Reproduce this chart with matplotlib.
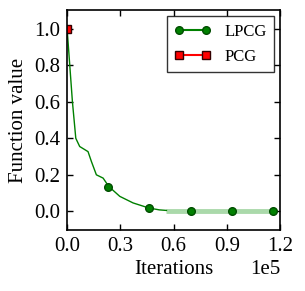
import numpy as np
import matplotlib
matplotlib.use("Agg")
import matplotlib.pyplot as plt

plt.rcParams['font.family'] = ['Liberation Serif', 'DejaVu Serif']

# LPCG curve
lpcg_iter = [0, 1500, 3000, 4900, 7100, 11800, 13700, 16500, 20300, 23500,
             29700, 37200, 46200, 52000, 56000]
lpcg_val = [1.0, 0.80, 0.60, 0.40, 0.355, 0.327, 0.273, 0.20, 0.182, 0.136,
            0.082, 0.046, 0.018, 0.008, 0.005]
# light band of the tail
band_iter = [56000, 116000]
band_val = [0.004, 0.004]
# markers of LPCG
mark_iter = [0, 23200, 46400, 69600, 92800, 116000]
mark_val = [1.0, 0.136, 0.018, 0.004, 0.004, 0.004]
# PCG
pcg_iter = [0]
pcg_val = [1.0]

fig = plt.figure(figsize=(3.05, 2.91), dpi=100)
ax = fig.add_axes([0.22, 0.211, 0.698, 0.753])

ax.plot(band_iter, band_val, color='#2ca02c', alpha=0.4, lw=3.5, solid_capstyle='butt')
ax.plot(lpcg_iter, lpcg_val, color='green', lw=1.0)
ax.plot(mark_iter, mark_val, ls='none', marker='o', ms=5.5, color='green', mec='#004d00')
ax.plot(pcg_iter, pcg_val, ls='none', marker='s', ms=5.5, color='red', mec='#330000')

# legend handles
ax.plot([], [], color='green', marker='o', ms=5.5, mec='#004d00', label='LPCG')
ax.plot([], [], color='red', marker='s', ms=5.5, mec='#330000', label='PCG')
leg = ax.legend(loc='upper right', numpoints=2, fancybox=False, fontsize=12,
                borderaxespad=0.35, handlelength=2.2, labelspacing=0.55,
                borderpad=0.45, handletextpad=0.8)
leg.get_frame().set_edgecolor('black')
leg.get_frame().set_linewidth(1.0)

ax.set_xlim(0, 1.2e5)
ax.set_ylim(-0.1, 1.1)
ax.set_xticks([0, 0.3e5, 0.6e5, 0.9e5, 1.2e5])
ax.set_yticks([0.0, 0.2, 0.4, 0.6, 0.8, 1.0])
ax.ticklabel_format(axis='x', style='sci', scilimits=(0, 0), useMathText=False)
ax.tick_params(direction='in', top=True, right=True, length=4, width=1,
               labelsize=15, pad=5)
for s in ax.spines.values():
    s.set_linewidth(1.2)
ax.set_xlabel('Iterations', fontsize=15, labelpad=3)
ax.set_ylabel('Function value', fontsize=15, labelpad=4)
ax.xaxis.get_offset_text().set_fontsize(15)

fig.savefig('out.png', dpi=100)
